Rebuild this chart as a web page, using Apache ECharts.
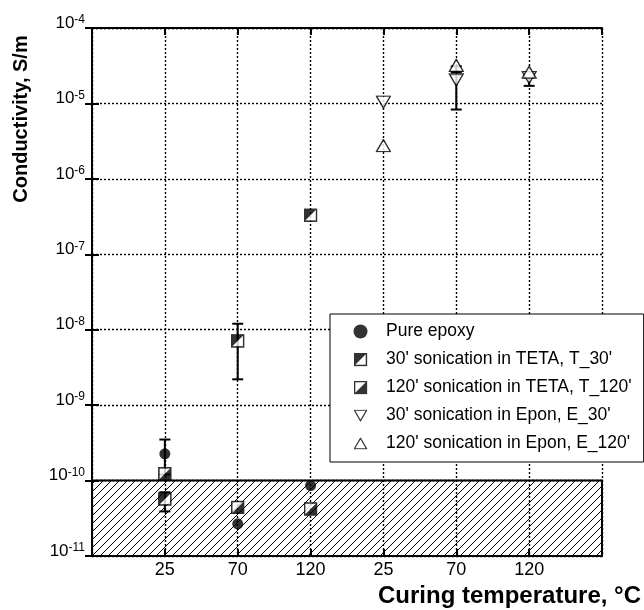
<!DOCTYPE html>
<html>
<head>
<meta charset="utf-8">
<script src="https://cdn.jsdelivr.net/npm/echarts@6/dist/echarts.min.js"></script>
<style>
html, body { margin: 0; padding: 0; background: #fff; }
#chart { width: 644px; height: 610px; }
</style>
</head>
<body>
<div id="chart"></div>
<script>
// category positions 1..6 on the x axis
const xLabels = ['', '25', '70', '120', '25', '70', '120', ''];
const seriesNames = [
  'Pure epoxy',
  "30' sonication in TETA, T_30'",
  "120' sonication in TETA, T_120'",
  "30' sonication in Epon, E_30'",
  "120' sonication in Epon, E_120'"
];
const pureEpoxy = [2.26e-10, 2.67e-11, 8.6e-11, null, null, null];
const teta30 = [5.7e-11, 7.1e-9, 3.3e-7, null, null, null];
const teta120 = [1.23e-10, 4.4e-11, 4.2e-11, null, null, null];
const epon30 = [null, null, null, 1.04e-5, 2.05e-5, 2.2e-5];
const epon120 = [null, null, null, 2.76e-6, 3.2e-5, 2.6e-5];
// [position, low, high]
const errorBars = [
  [1, 1.2e-10, 3.5e-10],
  [1, 3.9e-11, 7e-11],
  [2, 2.2e-9, 1.2e-8],
  [5, 8.3e-6, 2.4e-5],
  [5, 2.6e-5, 3.1e-5],
  [6, 1.71e-5, 2.2e-5]
];
// shaded band below the measurable limit
const limitBand = [1e-11, 1e-10];

const FONT = '"Liberation Sans", Arial, sans-serif';

function toPoints(values) {
  return values.map((v, i) => [i + 1, v]).filter(p => p[1] != null);
}

function svgSymbol(body, w, h) {
  const svg = `<svg xmlns="http://www.w3.org/2000/svg" width="${w}" height="${h}" viewBox="0 0 ${w} ${h}">${body}</svg>`;
  return 'image://data:image/svg+xml;charset=utf-8,' + encodeURIComponent(svg);
}

const squareUpper = svgSymbol(
  '<rect x="1" y="1" width="12" height="12" fill="#fff"/>' +
  '<polygon points="1,1 13,1 1,13" fill="#000"/>' +
  '<rect x="1" y="1" width="12" height="12" fill="none" stroke="#000" stroke-width="1.6"/>', 14, 14);
const squareLower = svgSymbol(
  '<rect x="1" y="1" width="12" height="12" fill="#fff"/>' +
  '<polygon points="13,1 13,13 1,13" fill="#000"/>' +
  '<rect x="1" y="1" width="12" height="12" fill="none" stroke="#000" stroke-width="1.6"/>', 14, 14);
const triDown = svgSymbol(
  '<polygon points="1,1 15,1 8,13" fill="#fff" stroke="#000" stroke-width="1.4"/>', 16, 14);
const triUp = svgSymbol(
  '<polygon points="8,1 15,13 1,13" fill="#fff" stroke="#000" stroke-width="1.4"/>', 16, 14);

// hatch pattern "////"
const hatch = document.createElement('canvas');
hatch.width = 8;
hatch.height = 8;
const hctx = hatch.getContext('2d');
hctx.strokeStyle = '#000';
hctx.lineWidth = 1;
hctx.beginPath();
hctx.moveTo(0, 8); hctx.lineTo(8, 0);
hctx.moveTo(-2, 2); hctx.lineTo(2, -2);
hctx.moveTo(6, 10); hctx.lineTo(10, 6);
hctx.stroke();

function renderErrorBar(params, api) {
  const x = api.value(0);
  const lo = api.coord([x, api.value(1)]);
  const hi = api.coord([x, api.value(2)]);
  const half = 5.5;
  const style = { stroke: '#000', lineWidth: 2, fill: null };
  return {
    type: 'group',
    children: [
      { type: 'line', shape: { x1: lo[0], y1: lo[1], x2: hi[0], y2: hi[1] }, style },
      { type: 'line', shape: { x1: lo[0] - half, y1: lo[1], x2: lo[0] + half, y2: lo[1] }, style },
      { type: 'line', shape: { x1: hi[0] - half, y1: hi[1], x2: hi[0] + half, y2: hi[1] }, style }
    ]
  };
}

const dotted = { color: '#000', width: 1.4, type: [2, 2] };
const axisLine = { show: true, lineStyle: { color: '#000', width: 2 } };
const tick = { show: true, inside: true, length: 7, lineStyle: { color: '#000', width: 2 } };

const myChart = echarts.init(document.getElementById('chart'));
const option = {
  animation: false,
  backgroundColor: '#fff',
  grid: { left: 92, right: 42, top: 28, bottom: 54 },
  legend: {
    orient: 'vertical',
    left: 330,
    top: 314,
    padding: [8.5, 12, 9.5, 23.5],
    itemWidth: 14,
    itemHeight: 14,
    itemGap: 10,
    backgroundColor: '#fff',
    borderColor: '#000',
    borderWidth: 1,
    borderRadius: 0,
    data: seriesNames,
    textStyle: { fontFamily: FONT, fontSize: 17.5, lineHeight: 18, color: '#000', padding: [0, 0, 0, 13.5] }
  },
  xAxis: [
    {
      type: 'value',
      min: 0,
      max: 7,
      interval: 1,
      axisLine,
      axisTick: tick,
      axisLabel: {
        margin: 5,
        color: '#000',
        fontFamily: FONT,
        fontSize: 18,
        formatter: v => xLabels[v] || ''
      },
      splitLine: { show: true, lineStyle: dotted }
    },
    {
      type: 'value',
      position: 'top',
      min: 0,
      max: 7,
      interval: 1,
      axisLine,
      axisTick: tick,
      axisLabel: { show: false },
      splitLine: { show: false }
    }
  ],
  yAxis: [
    {
      type: 'log',
      logBase: 10,
      min: 1e-11,
      max: 1e-4,
      interval: 1,
      axisLine,
      axisTick: tick,
      minorTick: { show: false },
      axisLabel: {
        margin: 7,
        color: '#000',
        fontFamily: FONT,
        formatter: v => '{b|10}{s|' + Math.round(Math.log10(v)) + '}',
        rich: {
          b: { fontSize: 17, fontFamily: FONT, color: '#000', lineHeight: 17, padding: [0, 0, 10, 0] },
          s: { fontSize: 12, fontFamily: FONT, color: '#000', lineHeight: 12, padding: [0, 0, 16, 0] }
        }
      },
      splitLine: { show: true, lineStyle: dotted }
    },
    {
      type: 'log',
      logBase: 10,
      min: 1e-11,
      max: 1e-4,
      interval: 1,
      position: 'right',
      axisLine,
      axisTick: tick,
      axisLabel: { show: false },
      splitLine: { show: false }
    }
  ],
  graphic: [
    {
      type: 'text',
      x: 21,
      y: 119,
      rotation: Math.PI / 2,
      style: { text: 'Conductivity, S/m', font: 'bold 20px ' + FONT, fill: '#000', align: 'center', verticalAlign: 'middle' }
    },
    {
      type: 'text',
      x: 641,
      y: 596,
      style: { text: 'Curing temperature, °C', font: 'bold 24px ' + FONT, fill: '#000', align: 'right', verticalAlign: 'middle' }
    }
  ],
  series: [
    {
      type: 'custom',
      name: 'error',
      renderItem: renderErrorBar,
      encode: { x: 0, y: [1, 2] },
      data: errorBars,
      z: 2,
      silent: true,
      markArea: {
        silent: true,
        itemStyle: { color: { image: hatch, repeat: 'repeat' }, borderColor: '#000', borderWidth: 2 },
        data: [[{ xAxis: 0, yAxis: limitBand[0] }, { xAxis: 7, yAxis: limitBand[1] }]]
      }
    },
    {
      type: 'scatter', name: seriesNames[0], data: toPoints(pureEpoxy),
      symbol: 'circle', symbolSize: 11, itemStyle: { color: '#000' }, z: 3
    },
    {
      type: 'scatter', name: seriesNames[1], data: toPoints(teta30),
      symbol: squareUpper, symbolSize: [14, 14], z: 3
    },
    {
      type: 'scatter', name: seriesNames[2], data: toPoints(teta120),
      symbol: squareLower, symbolSize: [14, 14], z: 3
    },
    {
      type: 'scatter', name: seriesNames[3], data: toPoints(epon30),
      symbol: triDown, symbolSize: [16, 14], z: 3
    },
    {
      type: 'scatter', name: seriesNames[4], data: toPoints(epon120),
      symbol: triUp, symbolSize: [16, 14], z: 3
    }
  ]
};
myChart.setOption(option);
</script>
</body>
</html>
